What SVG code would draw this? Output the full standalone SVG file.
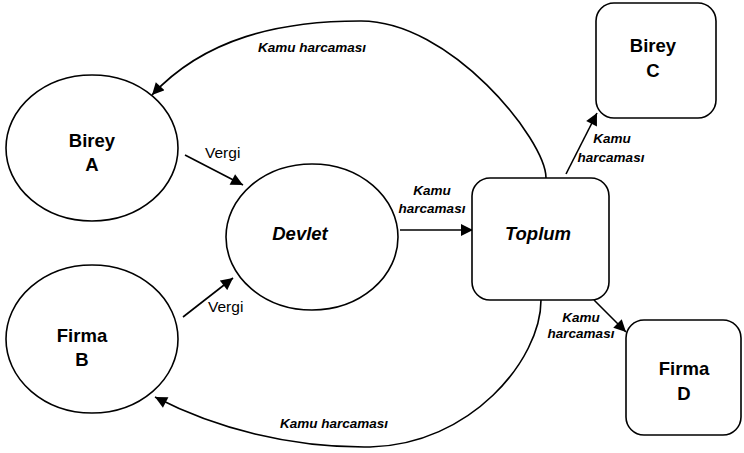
<svg xmlns="http://www.w3.org/2000/svg" width="744" height="453" viewBox="0 0 744 453">
<style>
.shape{fill:#fff;stroke:#000;stroke-width:1.6}
.name{font-family:"Liberation Sans",Arial,sans-serif;font-weight:bold;font-size:18.5px;text-anchor:middle;fill:#000}
.it{font-style:italic}
.lbl{font-family:"Liberation Sans",Arial,sans-serif;font-weight:bold;font-style:italic;font-size:13.5px;fill:#000}
.vg{font-family:"Liberation Sans",Arial,sans-serif;font-size:15.5px;fill:#000}
.mid{text-anchor:middle}
.con{fill:none;stroke:#000;stroke-width:1.6}
</style>
<defs>
<marker id="ah" viewBox="0 0 10 10" refX="10" refY="5" markerWidth="13" markerHeight="12" markerUnits="userSpaceOnUse" orient="auto">
<path d="M0,0 L10,5 L0,10 Z" fill="#000"/>
</marker>
</defs>
<g id="connectors">
<path class="con" d="M546,178 C546,140 450,20 360,21 C280,21 205,38 152,95" marker-end="url(#ah)"/>
<path class="con" d="M541,300 C541,360 470,445 370,447 C290,448 215,428 155,397" marker-end="url(#ah)"/>
<line class="con" x1="185" y1="155" x2="243" y2="185" marker-end="url(#ah)"/>
<line class="con" x1="183" y1="317" x2="233" y2="278" marker-end="url(#ah)"/>
<line class="con" x1="400" y1="230" x2="473" y2="230" marker-end="url(#ah)"/>
<line class="con" x1="566" y1="174" x2="597" y2="113" marker-end="url(#ah)"/>
<line class="con" x1="594" y1="300" x2="626" y2="332" marker-end="url(#ah)"/>
<text class="lbl" x="258" y="52">Kamu harcaması</text>
<text class="lbl" x="280" y="428">Kamu harcaması</text>
<text class="lbl mid" x="432" y="195">Kamu</text>
<text class="lbl mid" x="432" y="213">harcaması</text>
<text class="lbl mid" x="612" y="143">Kamu</text>
<text class="lbl mid" x="611" y="162">harcaması</text>
<text class="lbl mid" x="581" y="322">Kamu</text>
<text class="lbl mid" x="581" y="338">harcaması</text>
<text class="vg" x="205" y="158">Vergi</text>
<text class="vg" x="208" y="312">Vergi</text>
</g>
<g id="bireyA">
<ellipse class="shape" cx="92" cy="148" rx="86" ry="73"/>
<text class="name" x="92" y="147">Birey</text>
<text class="name" x="92" y="171">A</text>
</g>
<g id="devlet">
<ellipse class="shape" cx="312" cy="237" rx="86" ry="73"/>
<text class="name it" x="300" y="240">Devlet</text>
</g>
<g id="firmaB">
<ellipse class="shape" cx="92" cy="339" rx="86" ry="74"/>
<text class="name" x="82" y="342">Firma</text>
<text class="name" x="82" y="366">B</text>
</g>
<g id="toplum">
<rect class="shape" x="472" y="178" width="137" height="122" rx="18"/>
<text class="name it" x="538" y="240">Toplum</text>
</g>
<g id="bireyC">
<rect class="shape" x="596" y="3" width="120" height="115" rx="18"/>
<text class="name" x="653" y="52">Birey</text>
<text class="name" x="653" y="77">C</text>
</g>
<g id="firmaD">
<rect class="shape" x="626" y="320" width="115" height="115" rx="18"/>
<text class="name" x="684" y="375">Firma</text>
<text class="name" x="684" y="400">D</text>
</g>
</svg>
